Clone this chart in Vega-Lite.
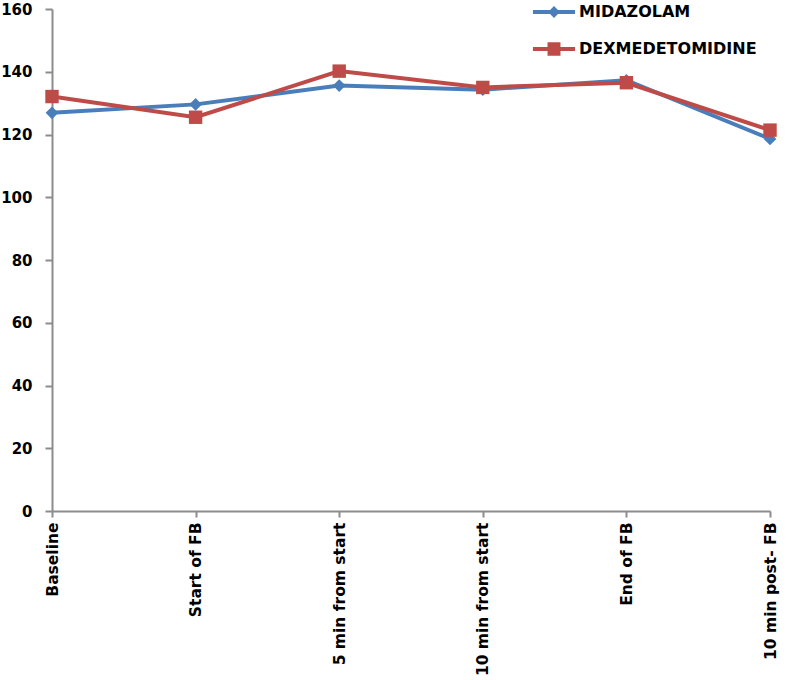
{
  "$schema": "https://vega.github.io/schema/vega-lite/v6.json",
  "width": 718,
  "height": 502,
  "autosize": {"type": "none"},
  "padding": {"left": 52, "top": 9, "right": 18, "bottom": 169},
  "background": "white",
  "config": {
    "view": {"stroke": null},
    "font": "DejaVu Sans"
  },
  "data": {
    "values": [
      {"time": "Baseline", "group": "MIDAZOLAM", "value": 126.9},
      {"time": "Start of FB", "group": "MIDAZOLAM", "value": 129.6},
      {"time": "5 min from start", "group": "MIDAZOLAM", "value": 135.6},
      {"time": "10 min from start", "group": "MIDAZOLAM", "value": 134.3},
      {"time": "End of FB", "group": "MIDAZOLAM", "value": 137.3},
      {"time": "10 min post- FB", "group": "MIDAZOLAM", "value": 118.6},
      {"time": "Baseline", "group": "DEXMEDETOMIDINE", "value": 132.1},
      {"time": "Start of FB", "group": "DEXMEDETOMIDINE", "value": 125.5},
      {"time": "5 min from start", "group": "DEXMEDETOMIDINE", "value": 140.2},
      {"time": "10 min from start", "group": "DEXMEDETOMIDINE", "value": 135.0},
      {"time": "End of FB", "group": "DEXMEDETOMIDINE", "value": 136.5},
      {"time": "10 min post- FB", "group": "DEXMEDETOMIDINE", "value": 121.4}
    ]
  },
  "encoding": {
    "x": {
      "field": "time",
      "type": "nominal",
      "sort": null,
      "scale": {"type": "point", "padding": 0},
      "axis": {
        "title": null,
        "labelAngle": -90,
        "labelFont": "DejaVu Sans",
        "labelFontWeight": "bold",
        "labelFontSize": 15.5,
        "labelColor": "black",
        "labelPadding": 5,
        "labelLimit": 300,
        "tickSize": 6,
        "tickWidth": 2,
        "tickColor": "#8c8c8c",
        "domainColor": "#8c8c8c",
        "domainWidth": 2,
        "grid": false
      }
    },
    "y": {
      "field": "value",
      "type": "quantitative",
      "scale": {"domain": [0, 160], "nice": false},
      "axis": {
        "title": null,
        "values": [0, 20, 40, 60, 80, 100, 120, 140, 160],
        "labelFont": "DejaVu Sans",
        "labelFontWeight": "bold",
        "labelFontSize": 15,
        "labelColor": "black",
        "labelPadding": 13,
        "tickSize": 7,
        "tickWidth": 2,
        "tickColor": "#8c8c8c",
        "domainColor": "#8c8c8c",
        "domainWidth": 2,
        "grid": false
      }
    },
    "color": {
      "field": "group",
      "type": "nominal",
      "sort": ["MIDAZOLAM", "DEXMEDETOMIDINE"],
      "scale": {"domain": ["MIDAZOLAM", "DEXMEDETOMIDINE"], "range": ["#4a7ebb", "#be4b48"]},
      "legend": {
        "title": null,
        "orient": "none",
        "legendX": 484,
        "legendY": -15,
        "symbolSize": 1296,
        "symbolStrokeWidth": 0,
        "symbolOpacity": 1,
        "rowPadding": 11,
        "labelOffset": 7,
        "labelLimit": 300,
        "labelFont": "DejaVu Sans",
        "labelFontWeight": "bold",
        "labelFontSize": 16,
        "labelColor": "black",
        "encode": {
          "symbols": {
            "update": {
              "shape": {"signal": "datum.value === 'MIDAZOLAM' ? 'M-1.17,-0.11H1.17V0.11H-1.17Z M0,-0.33L0.33,0L0,0.33L-0.33,0Z' : 'M-1.17,-0.11H1.17V0.11H-1.17Z M-0.36,-0.38H0.36V0.38H-0.36Z'"},
              "strokeWidth": {"value": 0},
              "opacity": {"value": 1},
              "fillOpacity": {"value": 1}
            }
          }
        }
      }
    }
  },
  "layer": [
    {
      "mark": {"type": "line", "strokeWidth": 4}
    },
    {
      "transform": [{"filter": "datum.group === 'MIDAZOLAM'"}],
      "mark": {"type": "point", "filled": true, "opacity": 1, "shape": "diamond", "size": 160}
    },
    {
      "transform": [{"filter": "datum.group === 'DEXMEDETOMIDINE'"}],
      "mark": {"type": "point", "filled": true, "opacity": 1, "shape": "square", "size": 180}
    }
  ]
}
